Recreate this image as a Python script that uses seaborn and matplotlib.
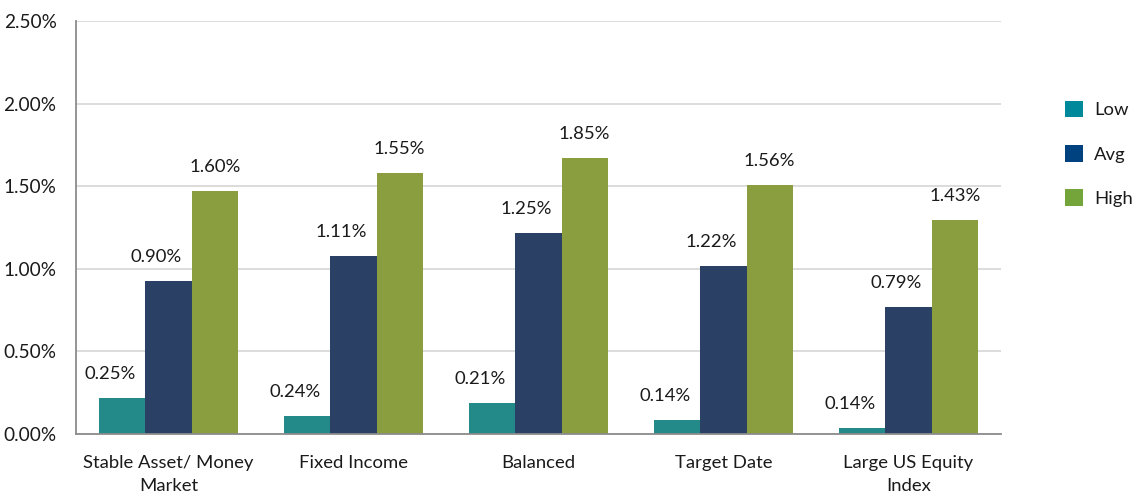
import matplotlib
matplotlib.use("Agg")
import matplotlib.pyplot as plt
import seaborn as sns
import pandas as pd
from matplotlib.patches import Patch
from matplotlib.ticker import FuncFormatter, FixedLocator

categories = ["Stable Asset/ Money\nMarket", "Fixed Income", "Balanced", "Target Date", "Large US Equity\nIndex"]
series = ["Low", "Avg", "High"]
low_vals = [0.216, 0.107, 0.186, 0.087, 0.036]
avg_vals = [0.927, 1.076, 1.218, 1.018, 0.767]
high_vals = [1.468, 1.579, 1.668, 1.510, 1.298]
low_labels = ["0.25%", "0.24%", "0.21%", "0.14%", "0.14%"]
avg_labels = ["0.90%", "1.11%", "1.25%", "1.22%", "0.79%"]
high_labels = ["1.60%", "1.55%", "1.85%", "1.56%", "1.43%"]
y_ticks = [0.0, 0.5, 1.0, 1.5, 2.0, 2.5]

bar_colors = {"Low": "#248A89", "Avg": "#2A4165", "High": "#8A9E40"}
legend_colors = {"Low": "#00899A", "Avg": "#00427F", "High": "#74A53B"}

rows = []
for s, vals in zip(series, [low_vals, avg_vals, high_vals]):
    for c, v in zip(categories, vals):
        rows.append({"category": c, "series": s, "value": v})
df = pd.DataFrame(rows)

sns.set_style("white")
plt.rcParams["font.family"] = ["Lato", "DejaVu Sans"]
FS = 13.3

fig = plt.figure(figsize=(11.38, 4.98), dpi=100)
ax = fig.add_axes([0.0668, 0.1285, 0.8128, 0.8293])

sns.barplot(data=df, x="category", y="value", hue="series", order=categories,
            hue_order=series, palette=bar_colors, width=0.75, saturation=1,
            errorbar=None, ax=ax, legend=False, linewidth=0)

ax.set_ylim(0, 2.5)
ax.set_xlim(-0.5, len(categories) - 0.5)
ax.yaxis.set_major_locator(FixedLocator(y_ticks))
ax.yaxis.set_major_formatter(FuncFormatter(lambda v, p: f"{v:.2f}%"))
ax.grid(axis="y", color="#D9D9D9", linewidth=1.3)
ax.set_axisbelow(True)

# x ticks: marks at boundaries, labels at centers
n = len(categories)
ax.set_xticks([i - 0.5 for i in range(n + 1)])
ax.set_xticklabels([""] * (n + 1))
ax.set_xticks(list(range(n)), minor=True)
ax.set_xticklabels(categories, minor=True, fontsize=FS, color="#1a1a1a", linespacing=1.55)
ax.tick_params(axis="x", which="major", length=6, width=1.3, color="#8C8C8C", direction="out")
ax.tick_params(axis="x", which="minor", length=0, pad=15)
ax.tick_params(axis="y", length=6, width=1.3, color="#8C8C8C", direction="out", labelsize=FS + 0.4,
               labelcolor="#1a1a1a", pad=8)

ax.set_xlabel("")
ax.set_ylabel("")
for side in ["top", "right"]:
    ax.spines[side].set_visible(False)
for side in ["left", "bottom"]:
    ax.spines[side].set_color("#8C8C8C")
    ax.spines[side].set_linewidth(1.3)

# data labels
label_sets = [low_labels, avg_labels, high_labels]
x_off = [-12, -12, 0]
for cont, labels, dx in zip(ax.containers, label_sets, x_off):
    for bar, lab in zip(cont, labels):
        xc = bar.get_x() + bar.get_width() / 2
        yt = bar.get_height()
        ax.annotate(lab, (xc, yt), xytext=(dx, 24), textcoords="offset pixels",
                    ha="center", va="center", fontsize=FS, color="#1a1a1a")

handles = [Patch(facecolor=legend_colors[s], edgecolor="none") for s in series]
leg = fig.legend(handles, series, loc="center left", bbox_to_anchor=(0.921, 0.691),
                 frameon=False, fontsize=FS, handlelength=1.0, handleheight=1.0,
                 labelspacing=1.45, handletextpad=0.6)
for t in leg.get_texts():
    t.set_color("#1a1a1a")

fig.savefig("out.png", dpi=100)
